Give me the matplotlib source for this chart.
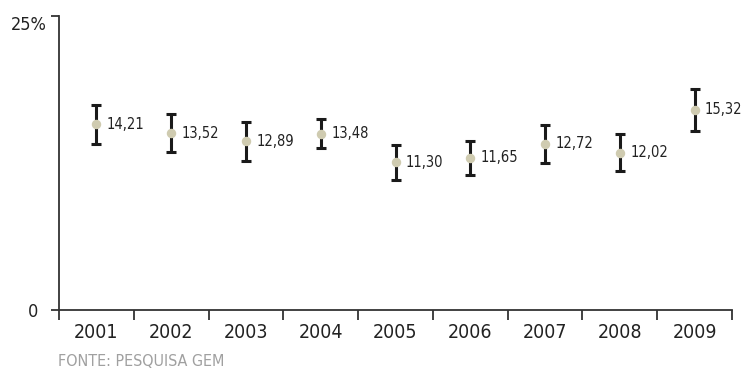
import numpy as np
import matplotlib.pyplot as plt
import matplotlib.transforms as mtransforms

# Dados
anos = ['2001', '2002', '2003', '2004', '2005', '2006', '2007', '2008', '2009']
taxa = [14.21, 13.52, 12.89, 13.48, 11.30, 11.65, 12.72, 12.02, 15.32]
erro = [1.5, 1.45, 1.5, 1.1, 1.35, 1.3, 1.45, 1.4, 1.6]
rotulos = ['14,21', '13,52', '12,89', '13,48', '11,30', '11,65', '12,72', '12,02', '15,32']

plt.rcParams['font.family'] = ['DejaVu Sans']
plt.rcParams['font.stretch'] = 'condensed'

fig = plt.figure(figsize=(7.43, 3.68), dpi=100)
ax = fig.add_axes([59 / 743, 58 / 368, 673 / 743, 294.3 / 368])

x = np.arange(len(anos))
ax.errorbar(x, taxa, yerr=erro, fmt='none', ecolor='#1a1a1a',
            elinewidth=2.2, capsize=3.3, capthick=2.2, zorder=2)
ax.plot(x, taxa, 'o', color='#cfcbb0', markersize=5.8, zorder=3)

for xi, yi, r in zip(x, taxa, rotulos):
    ax.annotate(r, (xi, yi), xytext=(7.5, 0), textcoords='offset points',
                va='center', ha='left', fontsize=10.5, color='#222222')

ax.set_xlim(-0.5, len(anos) - 0.5)
ax.set_ylim(0, 22.5)

# rótulos no centro, tracinhos nas divisões
ax.set_xticks(x)
ax.set_xticklabels(anos, fontsize=14, color='#222222')
ax.tick_params(axis='x', which='major', length=0, pad=9)
ax.set_xticks(np.arange(-0.5, len(anos)), minor=True)
ax.tick_params(axis='x', which='minor', length=7, width=1.3, color='#333333')

ax.set_yticks([0, 22.5])
ax.set_yticklabels(['0', '25%'], fontsize=13, color='#222222')
ax.tick_params(axis='y', length=6, width=1.3, color='#333333', pad=3)
lab0, lab25 = ax.get_yticklabels()
lab0.set_transform(lab0.get_transform() +
                   mtransforms.ScaledTranslation(-6 / 72, 0, fig.dpi_scale_trans))
lab25.set_va('top')

for s in ['top', 'right']:
    ax.spines[s].set_visible(False)
for s in ['left', 'bottom']:
    ax.spines[s].set_color('#333333')
    ax.spines[s].set_linewidth(1.3)

fig.text(58 / 743, 1 - 361 / 368, 'FONTE: PESQUISA GEM', fontsize=11.5,
         color='#a0a0a0', va='center', ha='left')

fig.savefig('out.png', dpi=100)
